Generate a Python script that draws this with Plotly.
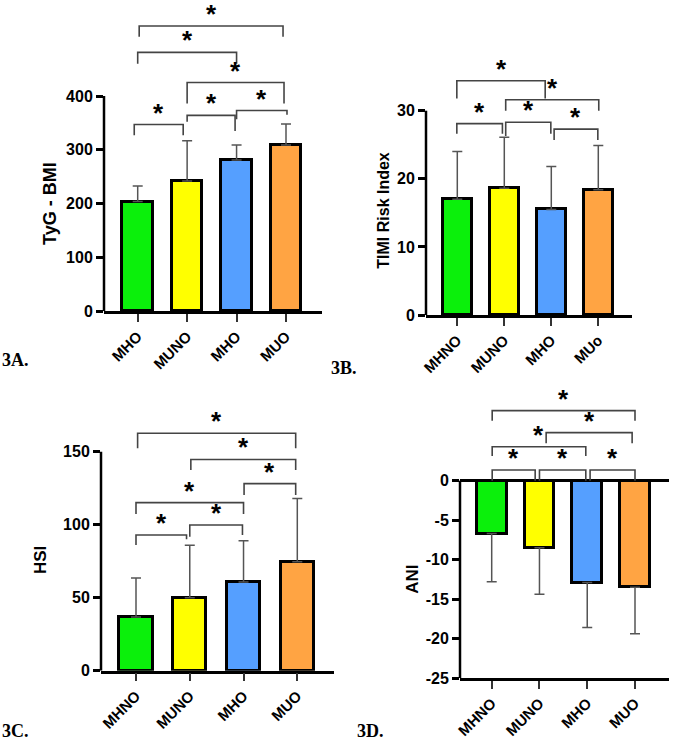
import plotly.graph_objects as go

# ---------------- data ----------------
colors = ["#0BF00B", "#FFFF00", "#559FFF", "#FFA443"]

a_labels = ["MHO", "MUNO", "MHO", "MUO"]
a_mean = [204, 242, 281, 309]
a_upper = [233, 317, 309, 348]

b_labels = ["MHNO", "MUNO", "MHO", "MUo"]
b_mean = [17.0, 18.6, 15.5, 18.4]
b_upper = [24.0, 26.1, 21.8, 24.9]

c_labels = ["MHNO", "MUNO", "MHO", "MUO"]
c_mean = [36.8, 50.0, 60.7, 74.7]
c_upper = [63.5, 86.0, 89.0, 118.0]

d_labels = ["MHNO", "MUNO", "MHO", "MUO"]
d_mean = [-6.7, -8.5, -12.9, -13.5]
d_lower = [-12.8, -14.4, -18.6, -19.4]

# brackets: (x_left, x_right, y_line, y_leg_left, y_leg_right)
a_brackets = [(-0.07, 0.92, 347, 327, 327), (1.0, 1.97, 364, 352, 335),
              (2.0, 3.02, 373, 357, 365), (1.0, 2.96, 425, 386, 386),
              (0.0, 2.0, 481, 460, 460), (0.03, 2.94, 530, 510, 510)]
b_brackets = [(-0.01, 0.96, 28.1, 26.6, 26.6), (1.03, 1.99, 28.3, 26.3, 26.6),
              (2.06, 2.99, 27.3, 25.7, 25.7), (1.03, 3.01, 31.6, 30.0, 30.0),
              (-0.01, 1.87, 34.4, 31.8, 31.8)]
c_brackets = [(0.0, 0.94, 92.9, 86.1, 90.0), (1.0, 1.98, 99.8, 91.8, 92.9),
              (0.0, 2.0, 115.1, 107.3, 107.3), (2.01, 2.97, 128.1, 120.3, 120.3),
              (1.02, 2.97, 144.7, 137.4, 137.4), (0.03, 2.97, 162.6, 152.3, 152.3)]
d_brackets = [(0.01, 0.91, 1.35, 0.0, 0.0), (1.0, 1.97, 1.35, 0.0, 0.0),
              (2.06, 3.0, 1.35, 0.0, 0.0), (0.01, 1.97, 4.31, 3.13, 3.13),
              (1.14, 2.94, 6.09, 4.74, 4.74), (0.01, 3.0, 8.88, 7.61, 7.61)]

a_ticks = [0, 100, 200, 300, 400]
b_ticks = [0, 10, 20, 30]
c_ticks = [0, 50, 100, 150]
d_ticks = [0, -5, -10, -15, -20, -25]

# ---------------- layout geometry (pixels) ----------------
W, H = 685, 751
SANS = "Liberation Sans, Arial, sans-serif"
SERIF = "Liberation Serif, Times New Roman, serif"

panels = [
    dict(name="A", labels=a_labels, mean=a_mean, err=a_upper, br=a_brackets, ticks=a_ticks,
         title="TyG - BMI", tsize=18, tpos=(50, 203), plabel="3A.", ppos=(0, 360),
         xpx=(104, 322), cats=(137.7, 286), yref=((0, 311.3), (400, 96.0)), ydom=(311.3, 4),
         axis_span=(0, 400)),
    dict(name="B", labels=b_labels, mean=b_mean, err=b_upper, br=b_brackets, ticks=b_ticks,
         title="TIMI Risk Index", tsize=16, tpos=(382.7, 210), plabel="3B.", ppos=(329, 368),
         xpx=(426, 632), cats=(457.3, 598.3), yref=((0, 315), (30, 110.7)), ydom=(315, 58),
         axis_span=(0, 30)),
    dict(name="C", labels=c_labels, mean=c_mean, err=c_upper, br=c_brackets, ticks=c_ticks,
         title="HSI", tsize=17, tpos=(40, 560), plabel="3C.", ppos=(0, 731),
         xpx=(101, 334), cats=(136, 297.3), yref=((0, 670.7), (150, 451.7)), ydom=(670.7, 410),
         axis_span=(0, 150)),
    dict(name="D", labels=d_labels, mean=d_mean, err=d_lower, br=d_brackets, ticks=d_ticks,
         title="ANI", tsize=17, tpos=(411.7, 579), plabel="3D.", ppos=(355, 731),
         xpx=(460, 668.5), cats=(491.7, 635), yref=((0, 480.7), (-25, 678)), ydom=(678, 395),
         axis_span=(-25, 0)),
]

def b(s):
    return f"<b>{s}</b>"

fig = go.Figure()
shapes = []
annotations = []

for k, p in enumerate(panels):
    n = k + 1
    xa = "x" if n == 1 else f"x{n}"
    ya = "y" if n == 1 else f"y{n}"
    xkey = "xaxis" if n == 1 else f"xaxis{n}"
    ykey = "yaxis" if n == 1 else f"yaxis{n}"

    ux = (p["cats"][1] - p["cats"][0]) / 3.0
    xr = [(p["xpx"][0] - p["cats"][0]) / ux, 3 + (p["xpx"][1] - p["cats"][1]) / ux]
    (v0, p0), (v1, p1) = p["yref"]
    uy = (p0 - p1) / (v1 - v0)
    vb = v0 + (p0 - p["ydom"][0]) / uy
    vt = v0 + (p0 - p["ydom"][1]) / uy

    xs = list(range(4))
    if p["name"] == "D":
        err = dict(type="data", symmetric=False, array=[0] * 4,
                   arrayminus=[m - e for m, e in zip(p["mean"], p["err"])],
                   color="#555555", thickness=1.5, width=5)
    else:
        err = dict(type="data", symmetric=False,
                   array=[e - m for m, e in zip(p["mean"], p["err"])],
                   arrayminus=[0] * 4, color="#555555", thickness=1.5, width=5)

    fig.add_trace(go.Bar(
        x=xs, y=p["mean"], width=0.62, xaxis=xa, yaxis=ya,
        marker=dict(color=colors, line=dict(color="black", width=3)),
        error_y=err, showlegend=False, hoverinfo="skip"))

    fig.layout[xkey] = dict(
        domain=[p["xpx"][0] / W, p["xpx"][1] / W], range=xr, anchor=ya, automargin=False,
        tickmode="array", tickvals=xs, ticktext=[b(t) for t in p["labels"]], tickangle=-45,
        tickfont=dict(family=SANS, size=15, color="black"),
        showline=True, linecolor="black", linewidth=2.5,
        ticks="outside", ticklen=8, tickwidth=2, tickcolor="#333333",
        showgrid=False, zeroline=False, fixedrange=True)
    fig.layout[ykey] = dict(
        domain=[1 - p["ydom"][0] / H, 1 - p["ydom"][1] / H], range=[vb, vt], anchor=xa,
        automargin=False,
        tickmode="array", tickvals=p["ticks"], ticktext=[b(t) for t in p["ticks"]],
        tickfont=dict(family=SANS, size=16, color="black"),
        showline=False, ticks="outside", ticklen=7, tickwidth=2.5, tickcolor="black",
        showgrid=False, zeroline=(p["name"] == "D"), zerolinecolor="black",
        zerolinewidth=2.5, fixedrange=True)

    shapes.append(dict(type="line", xref=f"{xa} domain", yref=ya, x0=0, x1=0,
                       y0=p["axis_span"][0], y1=p["axis_span"][1],
                       line=dict(color="black", width=2.5), layer="above"))

    for (xl, xrr, yl, legl, legr) in p["br"]:
        shapes.append(dict(type="path", xref=xa, yref=ya,
                           path=f"M {xl},{legl} L {xl},{yl} L {xrr},{yl} L {xrr},{legr}",
                           line=dict(color="#444444", width=1.6)))
        annotations.append(dict(x=(xl + xrr) / 2, y=yl, xref=xa, yref=ya, text=b("*"),
                                showarrow=False, yanchor="bottom", yshift=-5,
                                font=dict(family=SANS, size=26, color="black")))

    annotations.append(dict(x=p["tpos"][0] / W, y=1 - p["tpos"][1] / H, xref="paper", yref="paper",
                            text=b(p["title"]), textangle=-90, showarrow=False,
                            xanchor="center", yanchor="middle",
                            font=dict(family=SANS, size=p["tsize"], color="black")))
    annotations.append(dict(x=p["ppos"][0] / W, y=1 - p["ppos"][1] / H, xref="paper", yref="paper",
                            text=b(p["plabel"]), showarrow=False, xanchor="left", yanchor="middle",
                            font=dict(family=SERIF, size=18, color="black")))

fig.update_layout(width=W, height=H, margin=dict(l=0, r=0, t=0, b=0, autoexpand=False),
                  paper_bgcolor="white", plot_bgcolor="white",
                  shapes=shapes, annotations=annotations, bargap=0)

fig.write_html("out.html", config={"displayModeBar": False},
               post_script="document.body.style.margin='0px';")
